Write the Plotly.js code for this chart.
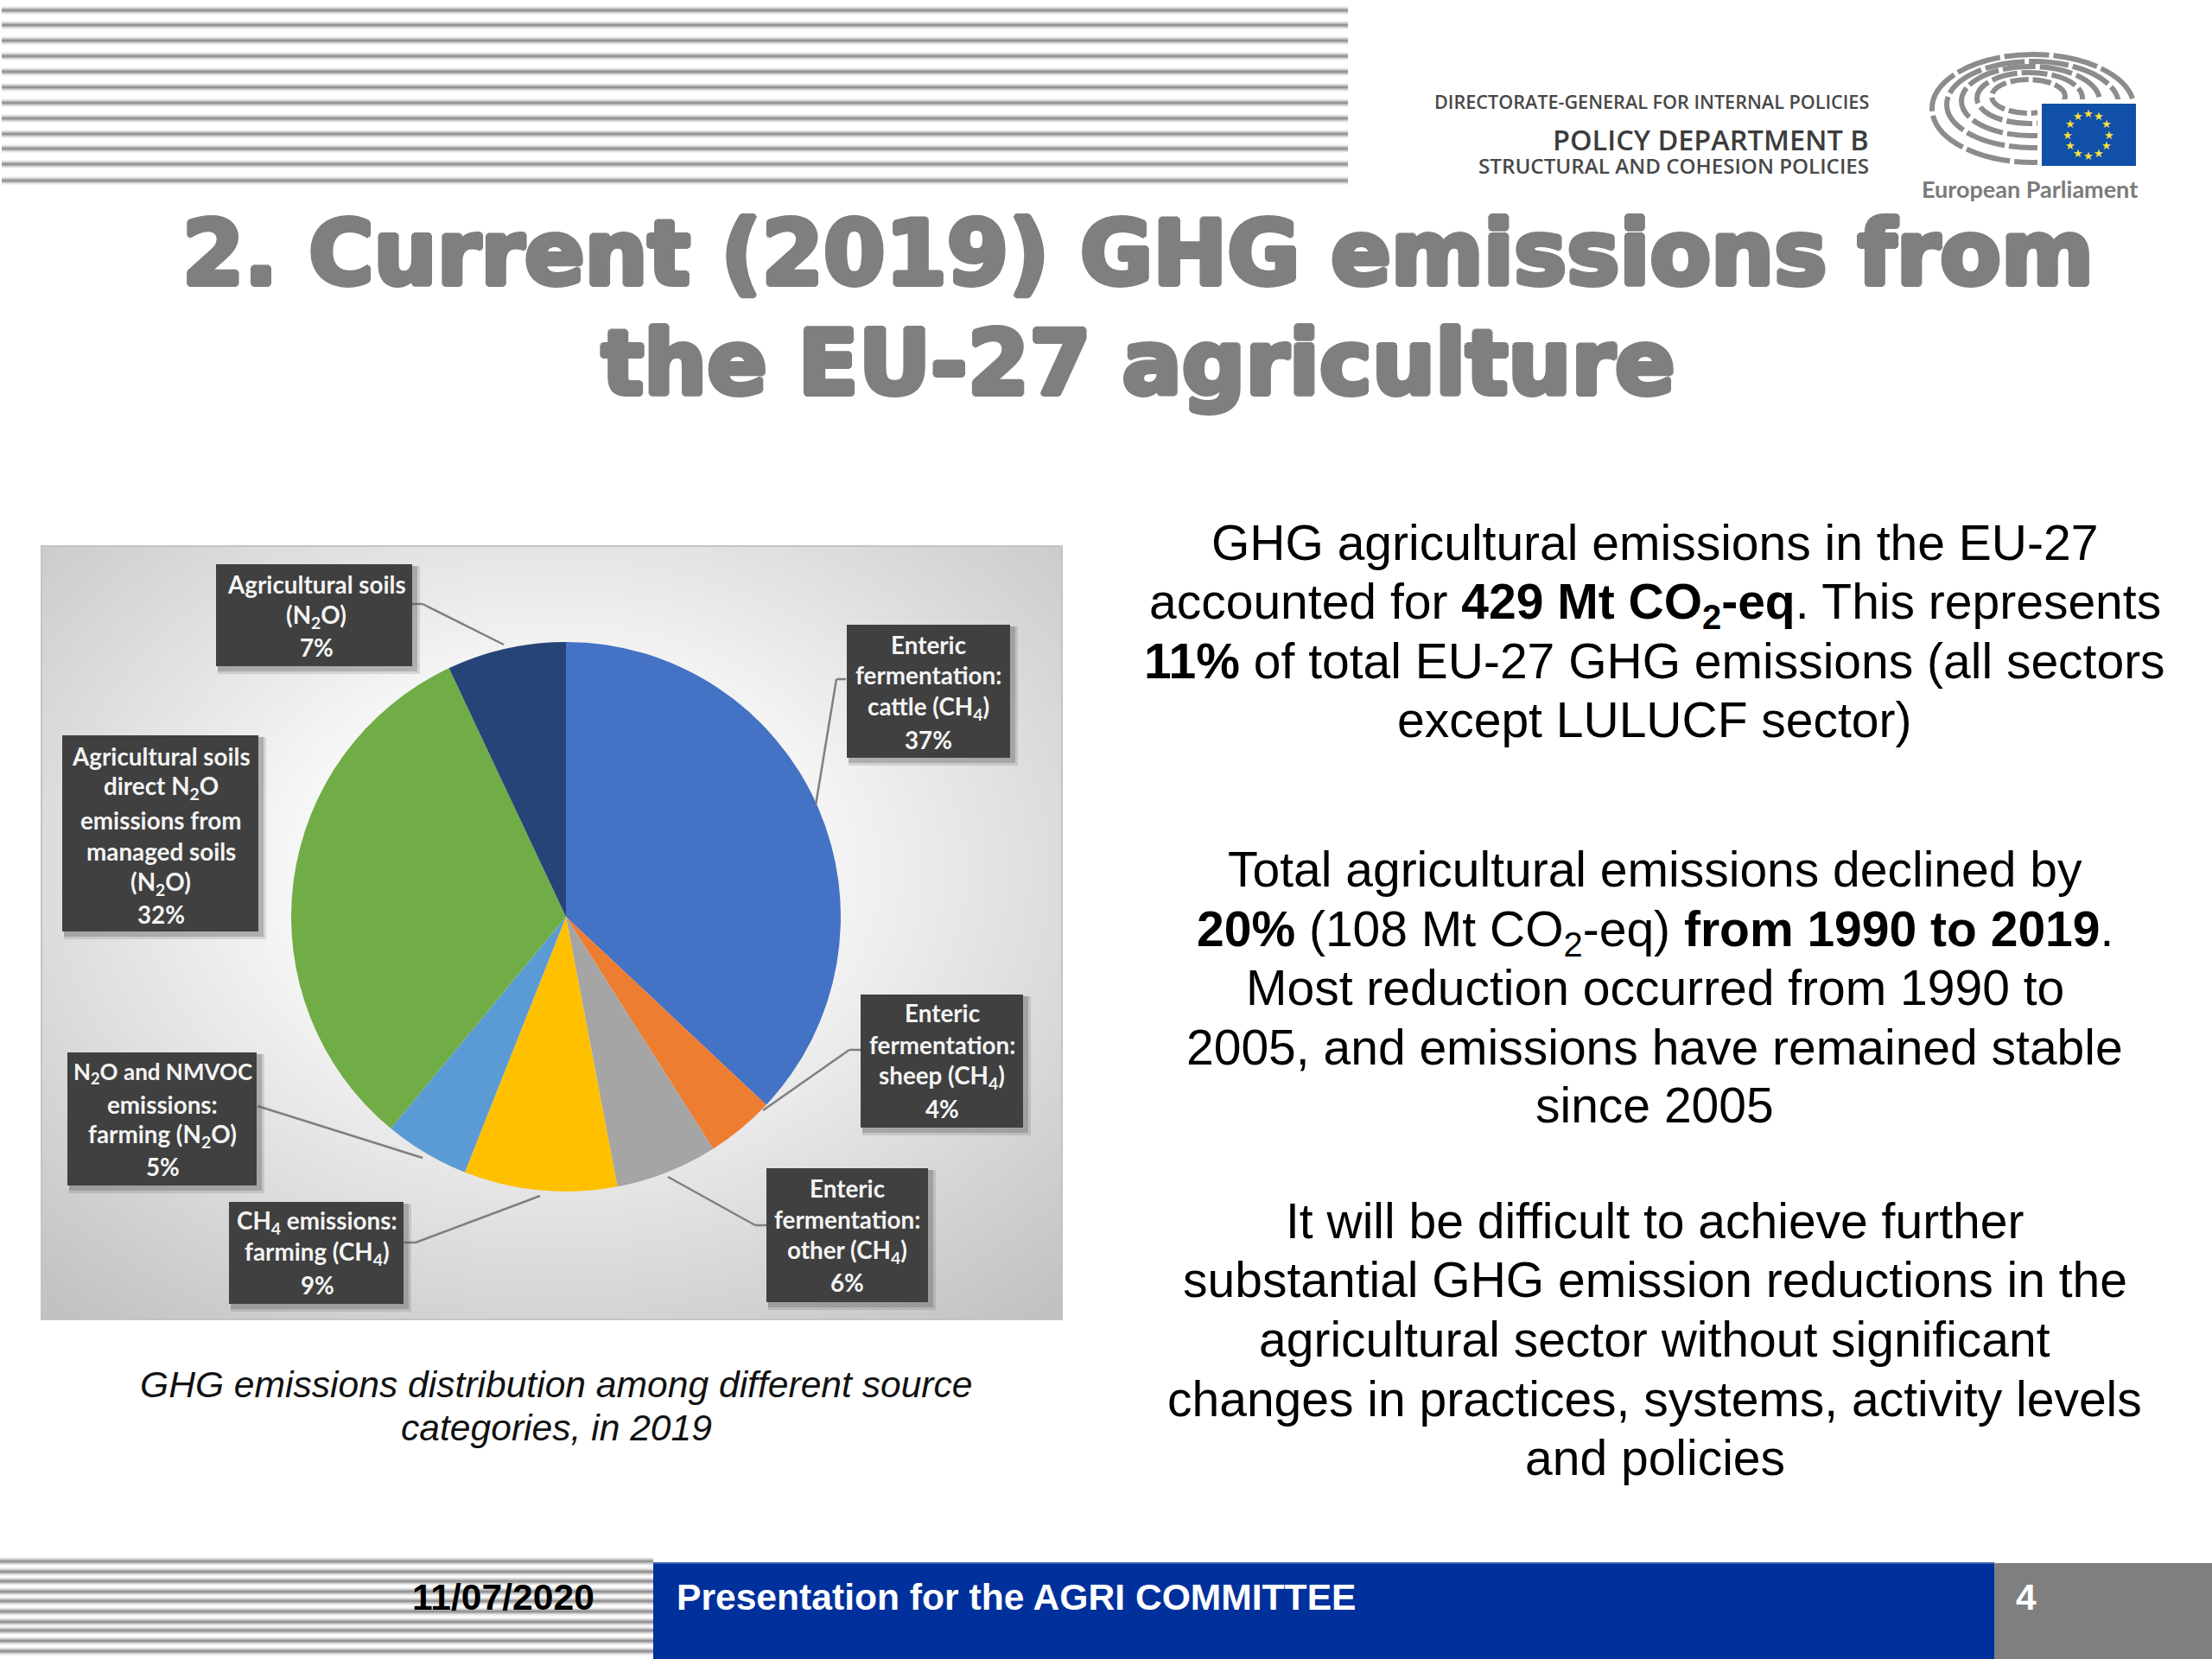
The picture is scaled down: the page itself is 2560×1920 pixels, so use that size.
<!DOCTYPE html>
<html><head><meta charset="utf-8">
<script src="https://cdn.plot.ly/plotly-3.0.1.min.js"></script>
<style>html,body{margin:0;padding:0;background:#fff}#c{width:2560px;height:1920px}</style>
</head><body><div id="c"></div>
<script>
// ---- chart data ----
const categories = ["Enteric fermentation: cattle (CH4)","Enteric fermentation: sheep (CH4)","Enteric fermentation: other (CH4)","CH4 emissions: farming (CH4)","N2O and NMVOC emissions: farming (N2O)","Agricultural soils direct N2O emissions from managed soils (N2O)","Agricultural soils (N2O)"];
const shares = [37,4,6,9,5,32,7];
const sliceColors = ["#4472c4","#ed7d31","#a5a5a5","#ffc000","#5b9bd5","#70ad47","#264478"];
// ---- texts ----
const titleLines = ["2. Current (2019) GHG emissions from","the EU-27 agriculture"];
const bodyLines = [
 "GHG agricultural emissions in the EU-27",
 "accounted for <b>429 Mt CO<sub>2</sub>-eq</b>. This represents",
 "<b>11%</b> of total EU-27 GHG emissions (all sectors",
 "except LULUCF sector)",
 "Total agricultural emissions declined by",
 "<b>20%</b> (108 Mt CO<sub>2</sub>-eq) <b>from 1990 to 2019</b>.",
 "Most reduction occurred from 1990 to",
 "2005, and emissions have remained stable",
 "since 2005",
 "It will be difficult to achieve further",
 "substantial GHG emission reductions in the",
 "agricultural sector without significant",
 "changes in practices, systems, activity levels",
 "and policies"];
const bodyY = [628,700,765,833,1006,1079,1143,1212,1279,1413,1481,1550,1619,1687];
const captionLines = ["GHG emissions distribution among different source","categories, in 2019"];
// [x0,y0,x1,y1, centreX, lineYs, lines]
const boxes = [
 [250,653,477,771,366,[676,713,749],["Agricultural soils","(N<sub>2</sub>O)","7%"]],
 [980,723,1169,877,1074,[746,782,820,856],["Enteric","fermentation:","cattle (CH<sub>4</sub>)","37%"]],
 [72,851,299,1078,186,[875,911,949,985,1022,1058],["Agricultural soils","direct N<sub>2</sub>O","emissions from","managed soils","(N<sub>2</sub>O)","32%"]],
 [996,1151,1184,1305,1090,[1172,1209,1246,1283],["Enteric","fermentation:","sheep (CH<sub>4</sub>)","4%"]],
 [78,1218,297,1372,188,[1241,1278,1314,1350],["N<sub>2</sub>O and NMVOC","emissions:","farming (N<sub>2</sub>O)","5%"]],
 [887,1352,1074,1507,980,[1375,1411,1448,1484],["Enteric","fermentation:","other (CH<sub>4</sub>)","6%"]],
 [265,1391,467,1509,367,[1414,1450,1487],["CH<sub>4</sub> emissions:","farming (CH<sub>4</sub>)","9%"]]
];
const leaders = [
 [[477,699],[489,699],[583,746]],
 [[979,786],[968,786],[944,932]],
 [[996,1215],[983,1215],[883,1285]],
 [[298,1280],[489,1340]],
 [[887,1418],[874,1418],[773,1362]],
 [[467,1438],[481,1438],[625,1384]]
];
const topStripeY = [12,29,47,65,83,101,119,137,155,172,190,209];
const footStripeY = [1807,1819,1830,1842,1853,1865,1877,1887,1899,1911];
const starAngles = [0,30,60,90,120,150,180,210,240,270,300,330];

// ---- helpers: page pixels to paper fractions ----
const W=2560,H=1920;
const px=x=>x/W, py=y=>1-y/H;
const shapes=[], ann=[];
function rect(x0,y0,x1,y1,fill,layer,line){shapes.push({type:'rect',xref:'paper',yref:'paper',x0:px(x0),x1:px(x1),y0:py(y0),y1:py(y1),fillcolor:fill,line:line||{width:0},layer:layer||'below'});}
function seg(x0,y0,x1,y1,color,w,layer){shapes.push({type:'line',xref:'paper',yref:'paper',x0:px(x0),x1:px(x1),y0:py(y0),y1:py(y1),line:{color:color,width:w},layer:layer||'below'});}
function txt(t,x,y,size,color,opt){opt=opt||{};ann.push({text:t,x:px(x),y:py(y),xref:'paper',yref:'paper',xanchor:opt.anchor||'center',yanchor:'middle',showarrow:false,align:opt.anchor||'center',
 font:{family:opt.family||'"Liberation Sans",Arial,sans-serif',size:size,color:color,weight:opt.weight||400,style:opt.style||'normal',shadow:opt.shadow||'none'}});}

// stripes
function stripe(x0,x1,y){seg(x0,y,x1,y,'#e8e8e8',9);seg(x0,y,x1,y,'#c0c0c0',5.5);seg(x0,y,x1,y,'#949494',2.5);}
topStripeY.forEach(y=>stripe(2,1560,y));
footStripeY.forEach(y=>stripe(0,756,y));

// footer
rect(756,1809,2308,1920,'#00309b');
seg(756,1809,2308,1809,'#3a63b8',2);
rect(2308,1809,2560,1920,'#7f7f7f');
txt('Presentation for the AGRI COMMITTEE',781,1848,42.6,'#fff',{anchor:'left',weight:700});
txt('11/07/2020',690,1848,42.6,'#000',{anchor:'right',weight:700});
txt('4',2345,1848,42.6,'#fff',{weight:700});

// logo text
const logoFont='"Open Sans","Noto Sans",sans-serif';
txt('DIRECTORATE-GENERAL FOR INTERNAL POLICIES',2165,118,21.6,'#484848',{anchor:'right',family:logoFont,weight:600});
txt('POLICY DEPARTMENT B',2165,162,32.5,'#3c3c3c',{anchor:'right',family:logoFont,weight:600});
txt('STRUCTURAL AND COHESION POLICIES',2165,192,24.2,'#484848',{anchor:'right',family:logoFont,weight:600});
txt('European Parliament',2349,219,27,'#7b7b7b',{family:'Lato,sans-serif',weight:700});

// hemicycle rings, then flag
[[2236,2470,63,188,"52px,5px"],[2253,2452,71,171,"46px,5px"],[2270,2430,77,157,"38px,5px"],[2288,2410,84,143,"30px,5px"],[2305,2390,92,131,"21px,5px"]].forEach(r=>{
 shapes.push({type:'circle',xref:'paper',yref:'paper',x0:px(r[0]),x1:px(r[1]),y0:py(r[3]),y1:py(r[2]),fillcolor:'rgba(0,0,0,0)',line:{color:'#8c8c8c',width:6,dash:r[4]},layer:'below'});
});
rect(2358,115,2490,205,'#ffffff');
rect(2363,120,2472,192,'#1150a8');
starAngles.forEach(a=>{const t=a*Math.PI/180;txt('★',2417+24*Math.sin(t),156-25*Math.cos(t),13,'#ffe23a',{family:'"DejaVu Sans"'});});

// title
titleLines.forEach((t,i)=>txt(t,1317,[294,421][i],102.7,'#7f7f7f',{family:'"DejaVu Sans",sans-serif',weight:700,shadow:'3px 0 #7f7f7f,-3px 0 #7f7f7f,0 3px #7f7f7f,0 -3px #7f7f7f,2px 2px #7f7f7f,-2px -2px #7f7f7f,2px -2px #7f7f7f,-2px 2px #7f7f7f'}));

// body
bodyLines.forEach((t,i)=>txt(t,1915,bodyY[i],57,'#000'));
captionLines.forEach((t,i)=>txt(t,644,[1602,1652][i],42.6,'#111',{style:'italic'}));

// chart panel: radial grey gradient background
const panelSvg='<svg xmlns="http://www.w3.org/2000/svg" width="1183" height="895"><defs><radialGradient id="g" cx="0.5" cy="0.42" r="0.74"><stop offset="0" stop-color="#ffffff"/><stop offset="0.35" stop-color="#f6f6f6"/><stop offset="1" stop-color="#c2c2c2"/></radialGradient></defs><rect width="1183" height="895" fill="url(#g)"/></svg>';
const images=[{source:'data:image/svg+xml;base64,'+btoa(panelSvg),xref:'paper',yref:'paper',x:px(48),y:py(632),sizex:1181/W,sizey:895/H,sizing:'stretch',xanchor:'left',yanchor:'top',layer:'below'}];
rect(48,632,1229,1527,'rgba(0,0,0,0)','below',{color:'#c4c4c4',width:2});

// leaders
leaders.forEach(p=>{for(let i=0;i<p.length-1;i++)seg(p[i][0],p[i][1],p[i+1][0],p[i+1][1],'#7f7f7f',2.5,'above');});

// callout boxes
boxes.forEach(b=>{
 rect(b[0]+2,b[1]+2,b[2]+9,b[3]+9,'rgba(90,90,90,0.18)','above');
 rect(b[0]+2,b[1]+2,b[2]+6,b[3]+6,'rgba(90,90,90,0.3)','above');
 rect(b[0],b[1],b[2],b[3],'#404040','above');
 b[6].forEach((l,i)=>txt(l,b[4],b[5][i],l.startsWith('N<sub>')?26:27.8,'#f4f4f4',{family:'Lato,Carlito,sans-serif',weight:700}));
});

const cx=655,cy=1061,r=318;
const data=[{type:'pie',labels:categories,values:shares,sort:false,direction:'clockwise',rotation:0,textinfo:'none',hoverinfo:'label+percent',
 marker:{colors:sliceColors,line:{width:0}},showlegend:false,
 domain:{x:[px(cx-r),px(cx+r)],y:[py(cy+r),py(cy-r)]}}];
Plotly.newPlot('c',data,{width:W,height:H,margin:{l:0,r:0,t:0,b:0},paper_bgcolor:'#fff',showlegend:false,shapes:shapes,annotations:ann,images:images},{displayModeBar:false,staticPlot:true});
</script></body></html>
